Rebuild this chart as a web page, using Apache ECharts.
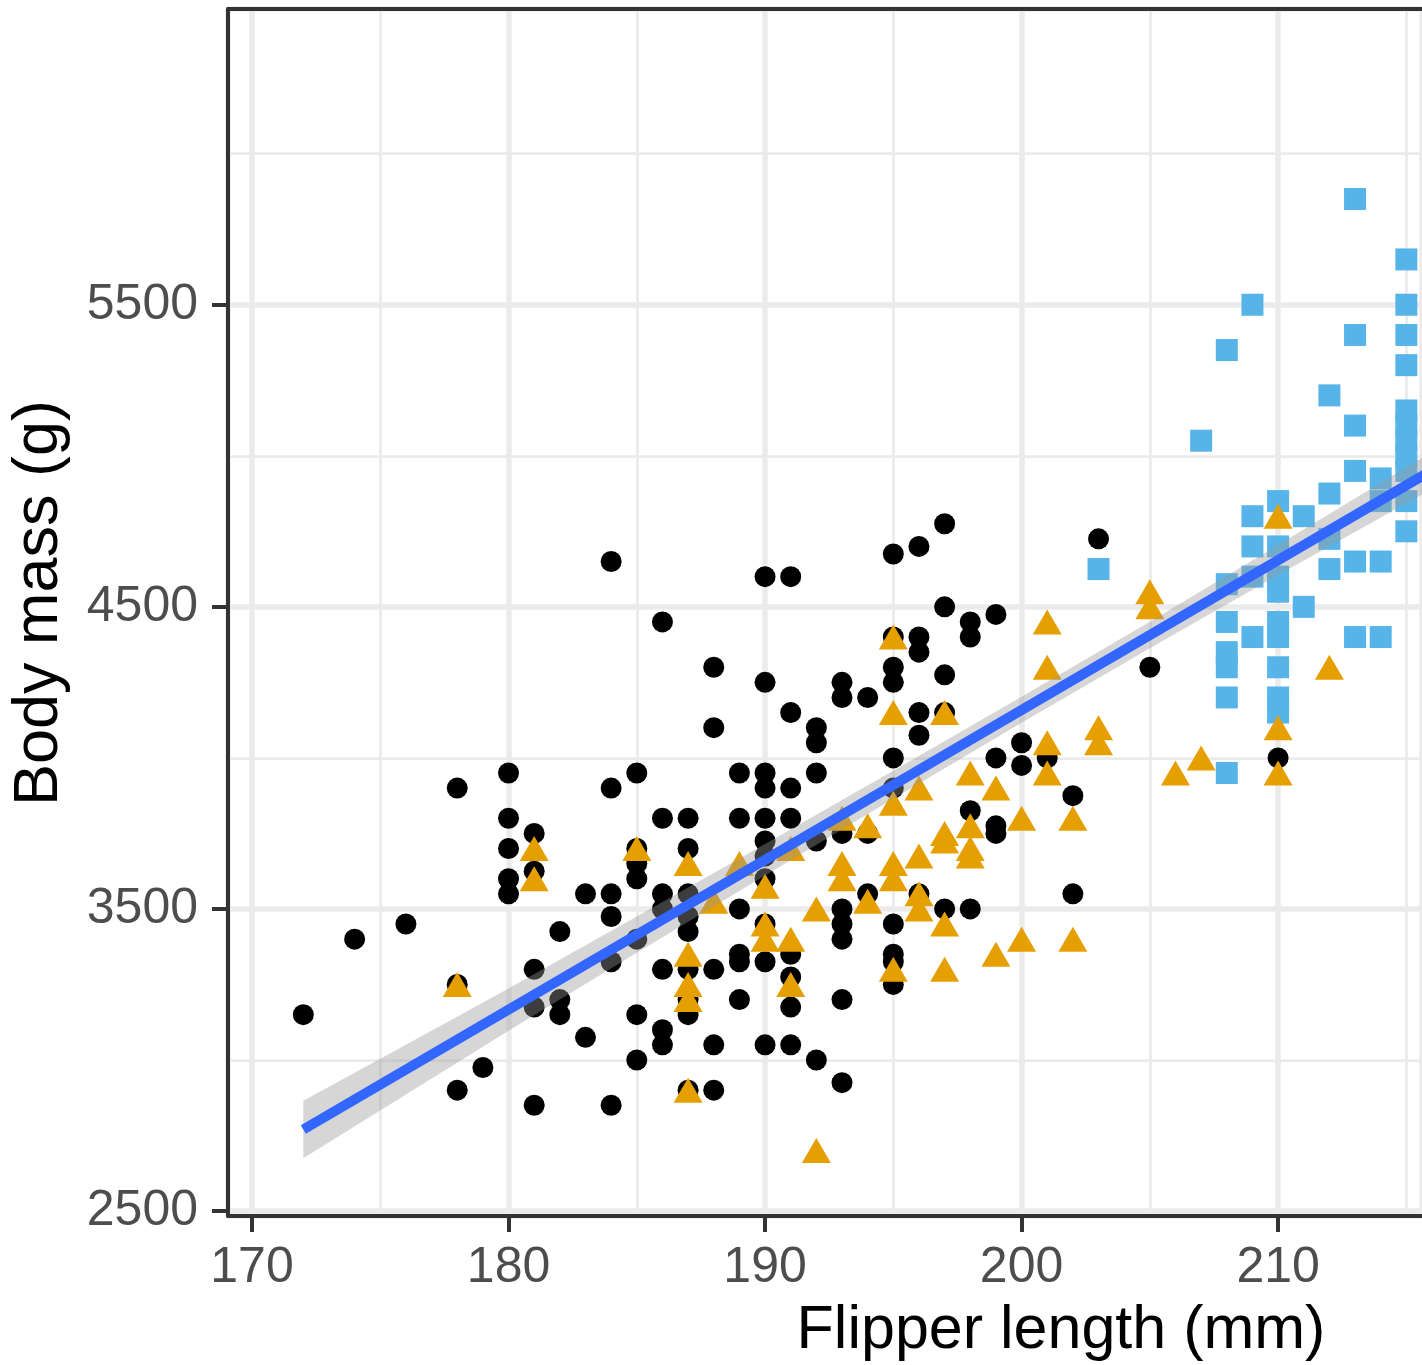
<!DOCTYPE html>
<html><head><meta charset="utf-8">
<script src="https://cdn.jsdelivr.net/npm/echarts@6/dist/echarts.min.js"></script>
<style>html,body{margin:0;padding:0;background:#fff}#c{width:1422px;height:1365px}</style>
</head><body><div id="c"></div>
<script>
// ---- data ----
const adelieFlipper = [172,174,176,178,178,178,179,180,180,180,180,180,181,181,181,181,181,182,182,182,183,183,
  184,184,184,184,184,184,185,185,185,185,185,185,185,186,186,186,186,186,186,186,
  187,187,187,187,187,187,187,187,187,188,188,188,188,188,189,189,189,189,189,189,
  190,190,190,190,190,190,190,190,190,190,190,191,191,191,191,191,191,191,191,
  192,192,192,192,192,193,193,193,193,193,193,193,193,194,194,194,
  195,195,195,195,195,195,195,195,195,195,196,196,196,196,196,196,197,197,197,197,197,
  198,198,198,198,199,199,199,199,200,200,201,202,202,203,205,210];
const adelieMass = [3150,3400,3450,3900,3250,2900,2975,3950,3800,3700,3600,3550,3750,3625,3300,3175,2850,3425,3200,3150,3550,3075,
  4650,3900,3550,3475,3325,2850,3950,3700,3650,3600,3400,3150,3000,4450,3800,3550,3500,3300,3100,3050,
  3800,3700,3550,3475,3425,3300,3200,3150,2900,4300,4100,3300,3050,2900,3950,3800,3500,3350,3325,3200,
  4600,4250,3950,3900,3800,3725,3675,3600,3450,3325,3050,4600,4150,3900,3800,3350,3275,3175,3050,
  4100,4050,3950,3725,3000,4250,4200,3750,3500,3450,3400,3200,2925,4200,3750,3550,
  4675,4400,4300,4250,4000,3900,3450,3350,3325,3250,4700,4400,4350,4150,4075,3550,4775,4500,4275,4150,3500,
  4450,4400,3825,3500,4475,4000,3775,3750,4050,3975,4000,3875,3550,4725,4300,4000];

const gentooFlipper = [203,207,208,208,208,208,208,208,208,209,209,209,209,209,
  210,210,210,210,210,210,210,210,210,211,211,212,212,212,212,213,213,213,213,213,213,
  214,214,214,214,215,215,215,215,215,215,215,215,215,215,215];
const gentooMass = [4625,5050,5350,4575,4450,4350,4300,4200,3950,5500,4800,4700,4600,4400,
  4850,4700,4600,4550,4450,4400,4300,4200,4150,4800,4500,5200,4875,4725,4625,5850,5400,5100,4950,4650,4400,
  4925,4850,4650,4400,5650,5500,5400,5300,5150,5100,5050,5000,4950,4850,4750];

const chinstrapFlipper = [178,181,181,185,187,187,187,187,187,188,189,190,190,190,191,191,191,192,192,
  193,193,193,194,194,195,195,195,195,195,195,196,196,196,196,197,197,197,197,197,
  198,198,198,198,199,199,200,200,201,201,201,201,202,202,203,203,205,205,206,207,210,210,210,212];
const chinstrapMass = [3250,3700,3600,3700,3650,3350,3250,3200,2900,3525,3650,3575,3450,3400,3700,3400,3250,3500,2700,
  3800,3650,3600,3775,3525,4400,4150,3850,3650,3600,3300,3900,3675,3550,3500,4150,3750,3725,3450,3300,
  3950,3775,3700,3675,3900,3350,3800,3400,4450,4300,4050,3950,3800,3400,4100,4050,4550,4500,3950,4000,4800,4100,3950,4300];

// fitted line and its confidence band
const fitX = [172, 216];
const fitY = [2770, 4952];
const bandX = [172, 176, 180, 185, 190, 195, 200, 205, 210, 216];
const bandLow = [2675, 2886, 3097, 3355, 3611, 3865, 4116, 4363, 4605, 4890];
const bandHigh = [2865, 3050, 3237, 3475, 3715, 3957, 4202, 4451, 4705, 5014];

const xTitle = 'Flipper length (mm)';
const yTitle = 'Body mass (g)';

// ---- build ----
const zip = (a, b) => a.map((v, i) => [v, b[i]]);
const XMIN = 169.064, XMAX = 215.61, YMIN = 2483.5, YMAX = 6479;
const FONT = '"Liberation Sans", Arial, Helvetica, sans-serif';
const DARK = '#333333', GRID = '#ebebeb';

const chart = echarts.init(document.getElementById('c'), null, {renderer: 'canvas'});
chart.setOption({
  animation: false,
  backgroundColor: '#ffffff',
  grid: {left: 228, top: 9, right: 0, bottom: 149, show: false},
  xAxis: [
    {type: 'value', min: XMIN, max: XMAX, splitNumber: 9, position: 'bottom',
      axisLine: {show: false}, axisTick: {show: false}, axisLabel: {show: false},
      splitLine: {show: true, lineStyle: {color: GRID, width: 2.75}}},
    {type: 'value', min: XMIN, max: XMAX, splitNumber: 4, position: 'bottom',
      axisLine: {show: true, onZero: false, lineStyle: {color: DARK, width: 4}},
      axisTick: {show: true, length: 16, lineStyle: {color: DARK, width: 4}},
      axisLabel: {show: true, margin: 27, fontSize: 50, color: '#4d4d4d', fontFamily: FONT, showMinLabel: false, showMaxLabel: false},
      splitLine: {show: true, lineStyle: {color: GRID, width: 5.5}}},
    {type: 'value', min: XMIN, max: XMAX, position: 'top',
      axisLine: {show: true, onZero: false, lineStyle: {color: DARK, width: 4}},
      axisTick: {show: false}, axisLabel: {show: false}, splitLine: {show: false}}
  ],
  yAxis: [
    {type: 'value', min: YMIN, max: YMAX, splitNumber: 8, position: 'left',
      axisLine: {show: false}, axisTick: {show: false}, axisLabel: {show: false},
      splitLine: {show: true, lineStyle: {color: GRID, width: 2.75}}},
    {type: 'value', min: YMIN + 500, max: YMAX + 500, splitNumber: 4, position: 'left',
      axisLine: {show: true, onZero: false, lineStyle: {color: DARK, width: 4}},
      axisTick: {show: true, length: 16, lineStyle: {color: DARK, width: 4}},
      axisLabel: {show: true, margin: 30, fontSize: 50, color: '#4d4d4d', fontFamily: FONT, showMinLabel: false, showMaxLabel: false,
        formatter: v => String(Math.round(v - 500))},
      splitLine: {show: true, lineStyle: {color: GRID, width: 5.5}}}
  ],
  series: [
    {type: 'scatter', name: 'Adelie', xAxisIndex: 0, yAxisIndex: 0, data: zip(adelieFlipper, adelieMass),
      symbol: 'circle', symbolSize: 21, itemStyle: {color: '#000000', opacity: 1}},
    {type: 'scatter', name: 'Gentoo', xAxisIndex: 0, yAxisIndex: 0, data: zip(gentooFlipper, gentooMass),
      symbol: 'rect', symbolSize: 22, itemStyle: {color: '#56B4E9', opacity: 1}},
    {type: 'scatter', name: 'Chinstrap', xAxisIndex: 0, yAxisIndex: 0, data: zip(chinstrapFlipper, chinstrapMass),
      symbol: 'triangle', symbolSize: [29, 25], itemStyle: {color: '#E69F00', opacity: 1}},
    {type: 'custom', name: 'band', xAxisIndex: 0, yAxisIndex: 0, clip: true, silent: true, z: 3,
      data: zip(bandX, bandLow),
      renderItem: (params, api) => {
        if (params.dataIndex !== 0) return null;
        const upper = bandX.map((x, i) => api.coord([x, bandHigh[i]]));
        const lower = bandX.map((x, i) => api.coord([x, bandLow[i]])).reverse();
        return {type: 'polygon', shape: {points: upper.concat(lower)},
          style: {fill: 'rgba(153,153,153,0.4)', stroke: null}};
      }},
    {type: 'line', xAxisIndex: 0, yAxisIndex: 0, data: zip(fitX, fitY), symbol: 'none', clip: true,
      lineStyle: {color: '#3366FF', width: 10}, silent: true, z: 4}
  ],
  graphic: [
    {type: 'text', x: 1061, y: 1331, silent: true,
      style: {text: xTitle, fontSize: 61, fontFamily: FONT, fill: '#000000', align: 'center', verticalAlign: 'middle', textAlign: 'center', textVerticalAlign: 'middle'}},
    {type: 'text', x: 40, y: 603, rotation: Math.PI / 2, silent: true,
      style: {text: yTitle, fontSize: 63, fontFamily: FONT, fill: '#000000', align: 'center', verticalAlign: 'middle', textAlign: 'center', textVerticalAlign: 'middle'}}
  ]
});
</script>
</body></html>
